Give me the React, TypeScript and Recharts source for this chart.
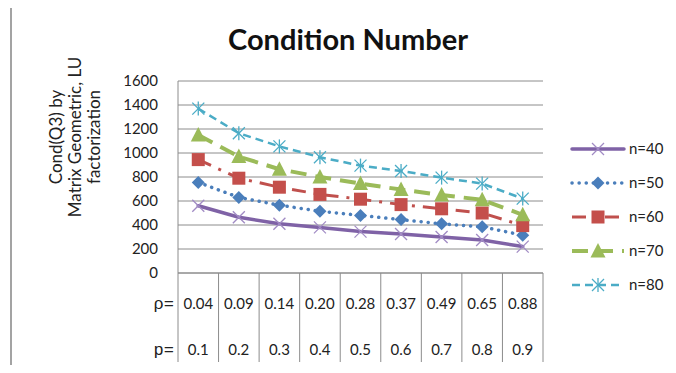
import React from "react";
import { LineChart, Line, XAxis, YAxis, CartesianGrid } from "recharts";

// categories: p values with their matching rho values
const pValues = ["0.1", "0.2", "0.3", "0.4", "0.5", "0.6", "0.7", "0.8", "0.9"];
const rhoValues = ["0.04", "0.09", "0.14", "0.20", "0.28", "0.37", "0.49", "0.65", "0.88"];

// condition numbers per matrix size
const n40 = [560, 465, 410, 380, 345, 325, 300, 275, 220];
const n50 = [755, 630, 565, 515, 480, 445, 410, 385, 315];
const n60 = [945, 790, 715, 655, 615, 570, 535, 500, 395];
const n70 = [1150, 970, 865, 800, 745, 695, 650, 610, 485];
const n80 = [1370, 1165, 1055, 965, 895, 850, 795, 745, 620];

const yTicks = [0, 200, 400, 600, 800, 1000, 1200, 1400, 1600];

const data = pValues.map((p, i) => ({
  p,
  rho: rhoValues[i],
  n40: n40[i],
  n50: n50[i],
  n60: n60[i],
  n70: n70[i],
  n80: n80[i],
}));

const W = 676;
const H = 373;
const margin = { top: 81, right: 133, bottom: 10, left: 0 };
const yAxisW = 178;
const plotW = W - margin.right - yAxisW;
const half = plotW / pValues.length / 2;
const gridColor = "#8c8c8c";

type MarkerKind = "x" | "diamond" | "square" | "triangle" | "star";

function Marker({ kind, cx, cy, color }: { kind: MarkerKind; cx: number; cy: number; color: string }) {
  if (cx == null || cy == null) return null;
  switch (kind) {
    case "x":
      return (
        <g stroke={color} strokeWidth={1.3}>
          <line x1={cx - 6} y1={cy - 6} x2={cx + 6} y2={cy + 6} />
          <line x1={cx - 6} y1={cy + 6} x2={cx + 6} y2={cy - 6} />
        </g>
      );
    case "diamond":
      return <polygon points={`${cx},${cy - 6.5} ${cx + 6.5},${cy} ${cx},${cy + 6.5} ${cx - 6.5},${cy}`} fill={color} />;
    case "square":
      return <rect x={cx - 6.5} y={cy - 6.5} width={13} height={13} fill={color} />;
    case "triangle":
      return <polygon points={`${cx},${cy - 8} ${cx + 7.5},${cy + 6.5} ${cx - 7.5},${cy + 6.5}`} fill={color} />;
    case "star":
      return (
        <g stroke={color} strokeWidth={1.3}>
          <line x1={cx - 6} y1={cy - 6} x2={cx + 6} y2={cy + 6} />
          <line x1={cx - 6} y1={cy + 6} x2={cx + 6} y2={cy - 6} />
          <line x1={cx} y1={cy - 7} x2={cx} y2={cy + 7} />
        </g>
      );
  }
}

const series = [
  { key: "n40", name: "n=40", color: "#7f62a6", markColor: "#a18bc4", width: 3.5, dash: undefined, cap: "round", marker: "x" as MarkerKind },
  { key: "n50", name: "n=50", color: "#4a7ebb", markColor: "#4a7ebb", width: 3.5, dash: "0.1 7", cap: "round", marker: "diamond" as MarkerKind },
  { key: "n60", name: "n=60", color: "#c0504d", markColor: "#c44f4b", width: 3, dash: "14 8 3 8", cap: "butt", marker: "square" as MarkerKind },
  { key: "n70", name: "n=70", color: "#9bbb59", markColor: "#9bbb59", width: 4, dash: "16 9", cap: "butt", marker: "triangle" as MarkerKind },
  { key: "n80", name: "n=80", color: "#4bacc6", markColor: "#4bacc6", width: 2.5, dash: "8 5", cap: "butt", marker: "star" as MarkerKind },
];

// two-row category labels with table dividers under the axis
function CategoryTick(props: any) {
  const { x, y, index } = props;
  const last = index === pValues.length - 1;
  return (
    <g>
      <line x1={x - half} x2={x - half} y1={y} y2={y + 89} stroke={gridColor} />
      {last && <line x1={x + half} x2={x + half} y1={y} y2={y + 89} stroke={gridColor} />}
      {index === 0 && (
        <g fontFamily="'Liberation Mono', monospace" fontSize={17} fill="#222" textAnchor="end">
          <text x={x - half - 4} y={y + 36}>ρ=</text>
          <text x={x - half - 4} y={y + 82}>p=</text>
        </g>
      )}
      <text x={x} y={y + 36} textAnchor="middle" fontSize={15} fill="#222">{rhoValues[index]}</text>
      <text x={x} y={y + 82} textAnchor="middle" fontSize={15} fill="#222">{pValues[index]}</text>
    </g>
  );
}

export default function App() {
  return (
    <div style={{ position: "relative", width: W, height: H, margin: -8, overflow: "hidden", background: "#fff", fontFamily: "Lato, sans-serif" }}>
      <div style={{ position: "absolute", left: 10, top: 2, width: 720, height: 420, border: "2px solid #a3a3a3" }} />
      <div style={{ position: "absolute", left: 0, top: 0 }}>
        <LineChart width={W} height={H} data={data} margin={margin}>
          <CartesianGrid vertical={false} stroke={gridColor} strokeWidth={1} />
          <XAxis
            dataKey="p"
            scale="band"
            interval={0}
            height={90}
            tickSize={0}
            tickMargin={0}
            axisLine={{ stroke: gridColor }}
            tick={<CategoryTick />}
          />
          <YAxis
            width={yAxisW}
            domain={[0, 1600]}
            ticks={yTicks}
            interval={0}
            tickLine={false}
            tickSize={6}
            tickMargin={14}
            axisLine={{ stroke: gridColor }}
            tick={{ fontSize: 15, fill: "#222" }}
          />
          {series.map((s) => (
            <Line
              key={s.key}
              dataKey={s.key}
              name={s.name}
              stroke={s.color}
              strokeWidth={s.width}
              strokeDasharray={s.dash}
              strokeLinecap={s.cap as any}
              type="linear"
              isAnimationActive={false}
              dot={(p: any) => (
                <g key={`${s.key}-${p.index}`}>
                  <Marker kind={s.marker} cx={p.cx} cy={p.cy} color={s.markColor} />
                </g>
              )}
              activeDot={false}
            />
          ))}
        </LineChart>
      </div>
      <svg width={W} height={H} style={{ position: "absolute", left: 0, top: 0, pointerEvents: "none" }}>
        <text x={348} y={50} textAnchor="middle" fontSize={29} fontWeight="bold" fill="#111">Condition Number</text>
        <g fontSize={17} fill="#222" textAnchor="middle">
          <text transform="translate(62,137) rotate(-90)">Cond(Q3) by</text>
          <text transform="translate(81,137) rotate(-90)">Matrix Geometric, LU</text>
          <text transform="translate(100,137) rotate(-90)">factorization</text>
        </g>
        {series.map((s, i) => {
          const cy = 149 + i * 34;
          return (
            <g key={s.key}>
              <line x1={572} x2={624} y1={cy} y2={cy} stroke={s.color} strokeWidth={s.width} strokeDasharray={s.dash} strokeLinecap={s.cap as any} />
              <Marker kind={s.marker} cx={598} cy={cy} color={s.markColor} />
              <text x={629} y={cy + 5} fontSize={15} fill="#222">{s.name}</text>
            </g>
          );
        })}
      </svg>
    </div>
  );
}
